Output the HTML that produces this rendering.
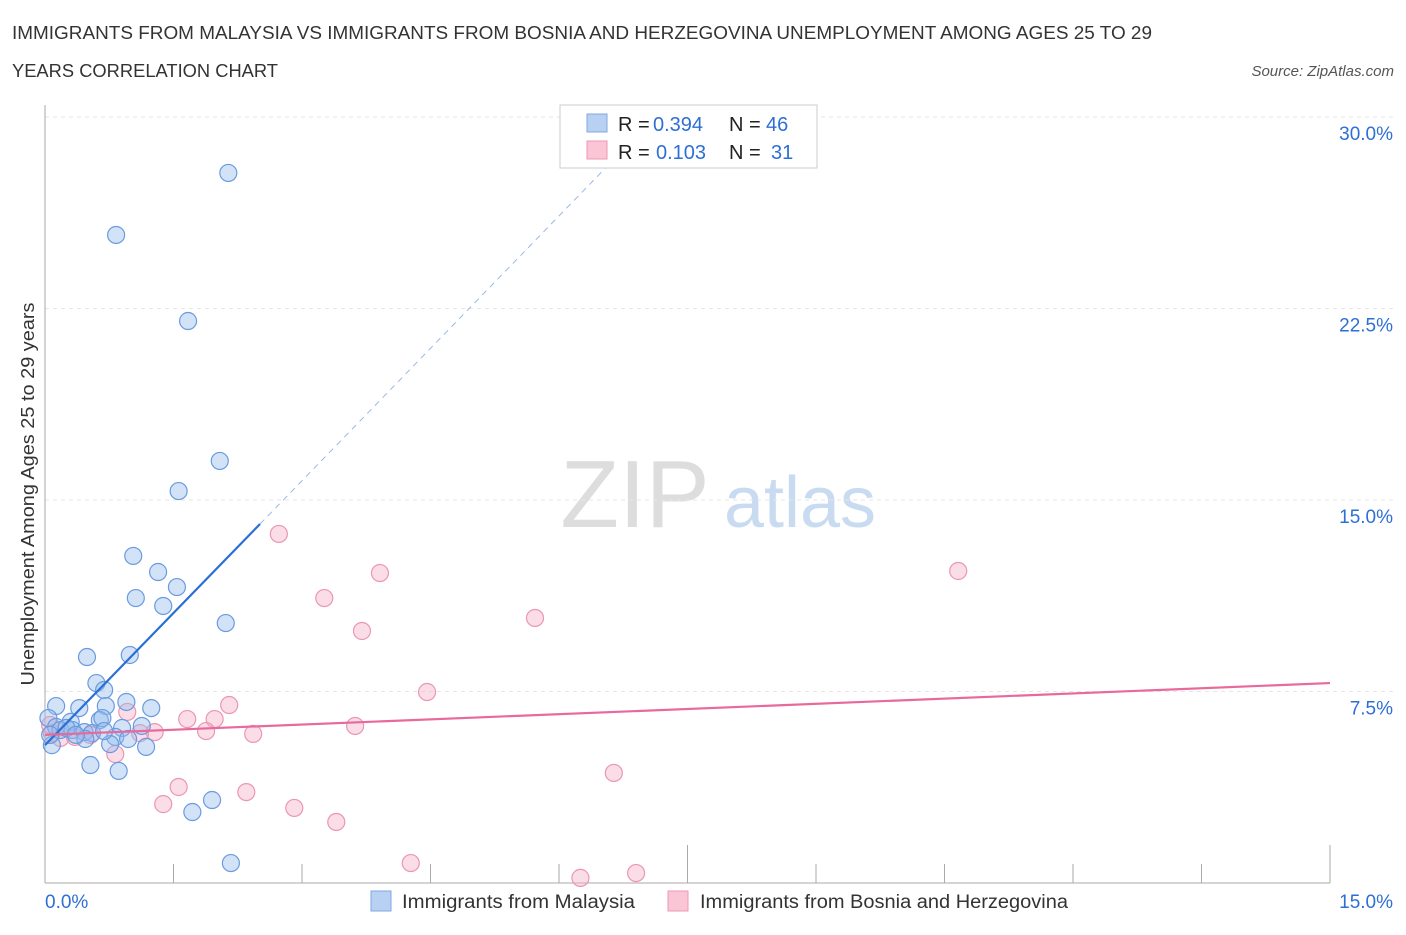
<!DOCTYPE html>
<html><head><meta charset="utf-8"><style>
body{margin:0;background:#fff;font-family:"Liberation Sans",sans-serif;}
svg text{font-family:"Liberation Sans",sans-serif;}
</style></head><body>
<svg id="chart" width="1406" height="930">
<text x="12" y="39" font-size="18" fill="#333" textLength="1140" lengthAdjust="spacingAndGlyphs">IMMIGRANTS FROM MALAYSIA VS IMMIGRANTS FROM BOSNIA AND HERZEGOVINA UNEMPLOYMENT AMONG AGES 25 TO 29</text>
<text x="12" y="77" font-size="18" fill="#333" textLength="266" lengthAdjust="spacingAndGlyphs">YEARS CORRELATION CHART</text>
<text x="1394" y="76" font-size="15" fill="#555" font-style="italic" text-anchor="end">Source: ZipAtlas.com</text>
<text x="34" y="494" font-size="18" fill="#333" text-anchor="middle" textLength="383" lengthAdjust="spacingAndGlyphs" transform="rotate(-90 34 494)">Unemployment Among Ages 25 to 29 years</text>
<g>
<text x="635" y="527" font-size="96" fill="#ddd" font-family="Liberation Serif,serif" text-anchor="middle">ZIP</text>
<text x="800" y="527" font-size="72" fill="#c9dbf1" text-anchor="middle">atlas</text>
</g>
<g id="grid"></g><g id="axes"></g><g id="marks"></g>
<g>
<rect x="560" y="105" width="257" height="63" fill="#fff" stroke="#ccc"/>
<rect x="587" y="114" width="20" height="18" fill="#b8d1f3" stroke="#7ea8e2"/>
<rect x="587" y="141" width="20" height="18" fill="#fac6d6" stroke="#ec98b4"/>
<text x="618" y="131" font-size="20" fill="#222">R =</text>
<text x="653" y="131" font-size="20" fill="#2e6fd4">0.394</text>
<text x="729" y="131" font-size="20" fill="#222">N =</text>
<text x="766" y="131" font-size="20" fill="#2e6fd4">46</text>
<text x="618" y="159" font-size="20" fill="#222">R =</text>
<text x="656" y="159" font-size="20" fill="#2e6fd4">0.103</text>
<text x="729" y="159" font-size="20" fill="#222">N =</text>
<text x="771" y="159" font-size="20" fill="#2e6fd4">31</text>
</g>
<g>
<rect x="371" y="891" width="20" height="20" fill="#b8d1f3" stroke="#7ea8e2"/>
<text x="402" y="908" font-size="19" fill="#333" textLength="233" lengthAdjust="spacingAndGlyphs">Immigrants from Malaysia</text>
<rect x="668" y="891" width="20" height="20" fill="#fac6d6" stroke="#ec98b4"/>
<text x="700" y="908" font-size="19" fill="#333" textLength="368" lengthAdjust="spacingAndGlyphs">Immigrants from Bosnia and Herzegovina</text>
</g>
</svg>
<script>
const yTicks=[7.5,15,22.5,30];
const yTickLabels=["7.5%","15.0%","22.5%","30.0%"];
const xTicks=[0,1.5,3,4.5,6,7.5,9,10.5,12,13.5,15];
const malaysiaX=[2.14,0.83,1.67,2.04,1.56,1.03,1.32,1.54,1.06,1.38,2.11,0.49,0.99,0.60,0.69,0.13,0.40,0.71,0.95,1.24,0.04,0.30,0.64,0.67,0.90,1.13,0.13,0.18,0.32,0.46,0.55,0.47,0.82,0.97,0.76,1.18,0.08,0.53,0.86,1.95,1.72,2.17,0.25,0.06,0.36,0.69];
const malaysiaY=[27.81,25.38,22.01,16.53,15.35,12.81,12.18,11.59,11.16,10.85,10.18,8.85,8.93,7.83,7.56,6.93,6.85,6.93,7.09,6.85,6.46,6.31,6.38,6.46,6.07,6.15,6.11,5.99,5.99,5.91,5.87,5.64,5.72,5.64,5.44,5.33,5.40,4.62,4.39,3.25,2.78,0.78,6.07,5.80,5.80,5.95];
const bosniaX=[2.73,3.91,10.66,3.26,5.72,3.70,4.46,2.15,0.96,1.66,1.98,3.62,1.88,2.43,1.28,1.11,0.82,6.64,1.56,2.35,1.38,2.91,3.40,4.27,6.25,6.90,0.08,0.18,0.35,0.53,0.06];
const bosniaY=[13.67,12.14,12.22,11.16,10.38,9.87,7.48,6.97,6.70,6.42,6.42,6.15,5.95,5.84,5.91,5.87,5.05,4.31,3.76,3.56,3.09,2.94,2.39,0.78,0.20,0.39,5.87,5.68,5.72,5.80,6.19];
const malaysiaTrend=[0,5.40,2.51,14.06,6.6,28.2];
const bosniaTrend=[0,5.80,15,7.83];
const NS="http://www.w3.org/2000/svg";
const X=v=>45+v/15*1285, Y=v=>883-v/7.5*191.5;
function mk(p,t,a){const e=document.createElementNS(NS,t);for(const k in a)e.setAttribute(k,a[k]);p.appendChild(e);return e;}
const grid=document.getElementById('grid'),axes=document.getElementById('axes'),marks=document.getElementById('marks');
yTicks.forEach((t,i)=>{
 const l=mk(grid,'line',{x1:45,x2:1394,y1:Y(t),y2:Y(t),stroke:'#e6e6e6','stroke-dasharray':'4 4'});
 
 
 const tx=mk(axes,'text',{x:1393,y:Y(t)+23,'font-size':19,fill:'#2e6fd4','text-anchor':'end'});
 tx.textContent=yTickLabels[i];
 
 
});
const ya=mk(axes,'line',{x1:45,x2:45,y1:105,y2:883,stroke:'#aaa'});


const xa=mk(axes,'line',{x1:45,x2:1330,y1:883,y2:883,stroke:'#aaa'});


xTicks.forEach(t=>{
 const l=mk(axes,'line',{x1:X(t),x2:X(t),y1:883,y2:(t>0&&t%7.5===0)?845:864,stroke:'#aaa'});
 
 
});
[[0,"0.0%","start",45],[15,"15.0%","end",1393]].forEach(a=>{
 const tx=mk(axes,'text',{x:a[3],y:908,'font-size':19,fill:'#2e6fd4','text-anchor':a[2]});
 tx.textContent=a[1];
 
 
});
bosniaX.forEach((x,i)=>{
 const c=mk(marks,'circle',{cx:X(x),cy:Y(bosniaY[i]),r:8.5,fill:'rgba(246,170,196,0.4)',stroke:'#eb96b2','stroke-width':1.2});
 
 
});
malaysiaX.forEach((x,i)=>{
 const c=mk(marks,'circle',{cx:X(x),cy:Y(malaysiaY[i]),r:8.5,fill:'rgba(150,188,236,0.42)',stroke:'#6a9be0','stroke-width':1.2});
 
 
});
const m=malaysiaTrend,b=bosniaTrend;
const l1=mk(marks,'line',{x1:X(m[0]),y1:Y(m[1]),x2:X(m[2]),y2:Y(m[3]),stroke:'#2a6fd6','stroke-width':2.2});


const l2=mk(marks,'line',{x1:X(m[2]),y1:Y(m[3]),x2:X(m[4]),y2:Y(m[5]),stroke:'#9bb9e4','stroke-width':1,'stroke-dasharray':'6 5'});


const l3=mk(marks,'line',{x1:X(b[0]),y1:Y(b[1]),x2:X(b[2]),y2:Y(b[3]),stroke:'#e8699a','stroke-width':2.2});


</script>
</body></html>
